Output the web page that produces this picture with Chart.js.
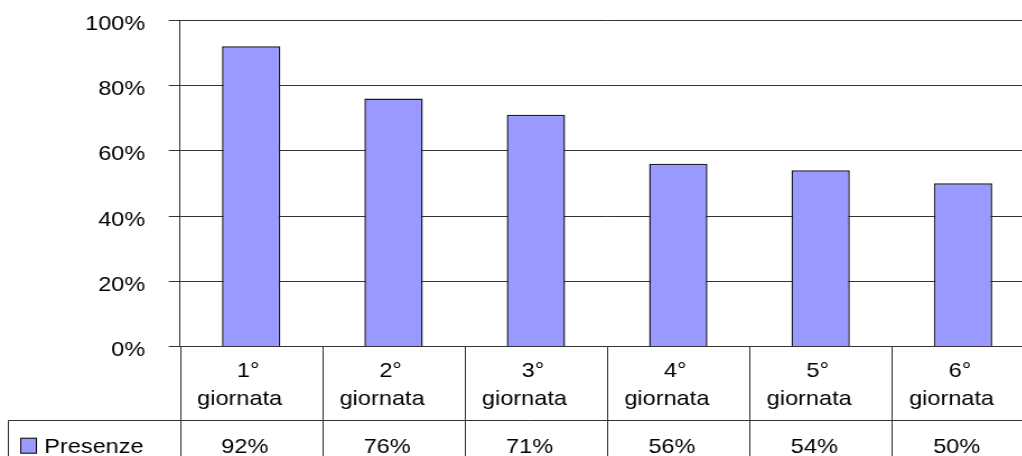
<!DOCTYPE html>
<html>
<head>
<meta charset="utf-8">
<script src="https://cdn.jsdelivr.net/npm/chart.js@4.4.1/dist/chart.umd.min.js"></script>
<style>
  html, body { margin: 0; padding: 0; background: #ffffff; overflow: hidden; }
  #frame { width: 1022px; height: 456px; overflow: hidden; position: relative; background: #fff; }
  #stretch { width: 940px; height: 500px; transform: scaleX(1.12); transform-origin: 0 0; }
</style>
</head>
<body>
<div id="frame"><div id="stretch"><canvas id="c" width="940" height="500"></canvas></div></div>
<script>
// Categories (two-line labels), series and axis ticks
const categories = [
  ['1°', 'giornata'],
  ['2°', 'giornata'],
  ['3°', 'giornata'],
  ['4°', 'giornata'],
  ['5°', 'giornata'],
  ['6°', 'giornata']
];
const seriesName = 'Presenze';
const presenze = [0.92, 0.76, 0.71, 0.56, 0.54, 0.50];
const yTickValues = [0, 0.2, 0.4, 0.6, 0.8, 1.0];

const FONT = "'Liberation Sans', Arial, sans-serif";
const BAR_FILL = '#9999FF';
const LINE = '#333333';

const pct = v => Math.round(v * 100) + '%';

// Data table under the plot: category row, then legend key + values row
const dataTable = {
  id: 'dataTable',
  afterDraw(chart) {
    const { ctx, chartArea, scales } = chart;
    const x = scales.x;
    const H = chart.height;
    const W = chart.width;
    const step = x.getPixelForTick(1) - x.getPixelForTick(0);
    const top = chartArea.bottom;
    const split = Math.round(top + 73) + 0.5;
    const legendLeft = 7.5;

    ctx.save();
    ctx.strokeStyle = LINE;
    ctx.lineWidth = 1;
    ctx.beginPath();
    for (let i = 0; i <= categories.length; i++) {
      const px = Math.round(x.getPixelForTick(0) - step / 2 + i * step) + 0.5;
      ctx.moveTo(px, top);
      ctx.lineTo(px, H);
    }
    ctx.moveTo(legendLeft, split);
    ctx.lineTo(W, split);
    ctx.moveTo(legendLeft, split);
    ctx.lineTo(legendLeft, H);
    ctx.stroke();

    ctx.fillStyle = '#000';
    ctx.font = '21px ' + FONT;
    ctx.textAlign = 'left';
    ctx.textBaseline = 'alphabetic';
    // cell text sits a little left of the cell centre
    const cellText = (s, cx, y) => {
      const w = ctx.measureText(s).width;
      ctx.fillText(s, cx - 0.635 * w, y);
    };
    categories.forEach((lab, i) => {
      const cx = x.getPixelForTick(i);
      cellText(lab[0], cx, top + 30);
      cellText(lab[1], cx, top + 58);
      cellText(pct(presenze[i]), cx, top + 106);
    });

    // legend key
    ctx.fillStyle = BAR_FILL;
    ctx.fillRect(18.5, top + 91.5, 14, 15);
    ctx.strokeStyle = '#000';
    ctx.strokeRect(18.5, top + 91.5, 14, 15);
    ctx.fillStyle = '#000';
    ctx.fillText(seriesName, 39.5, top + 106);
    ctx.restore();
  }
};

new Chart(document.getElementById('c'), {
  type: 'bar',
  data: {
    labels: categories,
    datasets: [{
      label: seriesName,
      data: presenze,
      backgroundColor: BAR_FILL,
      borderColor: '#1a1a2a',
      borderWidth: 1.5,
      borderSkipped: 'start',
      categoryPercentage: 0.41,
      barPercentage: 1.0
    }]
  },
  options: {
    responsive: false,
    animation: false,
    events: [],
    layout: { padding: { left: 0, top: 20, right: 16.6, bottom: 0 } },
    plugins: {
      legend: { display: false },
      tooltip: { enabled: false }
    },
    scales: {
      x: {
        grid: { display: false, drawTicks: false },
        border: { display: false },
        ticks: { display: false },
        afterFit(scale) {
          scale.height = 500 - 346.7;
          scale.paddingLeft = 0;
          scale.paddingRight = 0;
        }
      },
      y: {
        min: 0,
        max: 1,
        afterBuildTicks(scale) { scale.ticks = yTickValues.map(v => ({ value: v })); },
        grid: { color: LINE, lineWidth: 1, tickLength: 10, drawTicks: true },
        border: { display: true, color: LINE, width: 1 },
        ticks: {
          color: '#000',
          font: { family: FONT, size: 21 },
          padding: 21,
          labelOffset: 4,
          callback: v => pct(v)
        },
        afterFit(scale) {
          scale.width = 160.7;
          scale.paddingTop = 0;
          scale.paddingBottom = 0;
        }
      }
    }
  },
  plugins: [dataTable]
});
</script>
</body>
</html>
